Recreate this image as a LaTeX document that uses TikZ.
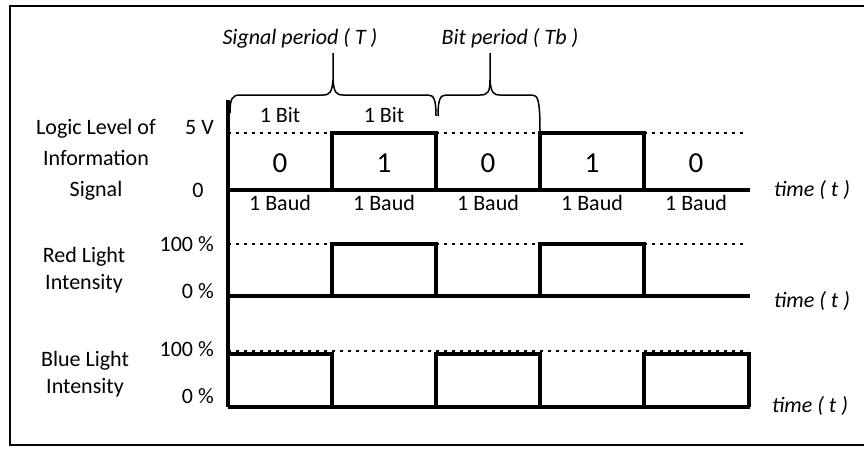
\documentclass[tikz,border=0pt]{standalone}
\usepackage{fontspec}
\setmainfont{Carlito}
\tikzset{
  sig/.style={line width=3.6pt},
  lvl/.style={line width=2.6pt, dash pattern=on 2.6pt off 5.4pt},
  brc/.style={line width=1.5pt},
  lbl/.style={font=\fontsize{22}{27}\selectfont, inner sep=0pt},
  ital/.style={font=\fontsize{22}{27}\selectfont\itshape, inner sep=0pt},
  digit/.style={font=\fontsize{29}{30}\selectfont, inner sep=0pt}
}
\begin{document}
\begin{tikzpicture}[x=1pt, y=-1pt]
    \useasboundingbox (0,0) rectangle (864,448);
    % Marco
    \draw[line width=2.4pt] (10,6) rectangle (880,445);

    % Periodos
    \node[ital] (sigT) at (300,38) {Signal period ( T )};
    \node[ital] (bitTb) at (510,38) {Bit period ( Tb )};
    \draw[brc] (230,113) .. controls (230,99) and (232,95) .. (240,95) -- (323,95)
        .. controls (330,95) and (332,92) .. (333,80) -- (333,53);
    \draw[brc] (333,80) .. controls (334,92) and (336,95) .. (343,95) -- (428,95)
        .. controls (434,95) and (436,100) .. (436,116);
    \draw[brc] (438,116) .. controls (438,100) and (440,95) .. (446,95) -- (480,95)
        .. controls (488,95) and (490,92) .. (490,80) -- (490,53);
    \draw[brc] (490,80) .. controls (491,92) and (493,95) .. (500,95) -- (532,95)
        .. controls (538,95) and (540,100) .. (540,133);
    \node[lbl] (bitA) at (280,115) {1 Bit};
    \node[lbl] (bitB) at (384,115) {1 Bit};

    % Eje vertical
    \draw[sig] (228,100) -- (228,407);

    % Senal de informacion
    \node[lbl, align=center, font=\fontsize{22}{31}\selectfont] (logicLbl) at (96,160) {Logic Level of\\Information\\Signal};
    \node[lbl, anchor=east] (fiveV) at (214,128) {5 V};
    \node[lbl] (zeroV) at (198,190) {0};
    \draw[lvl] (228,133) -- (744,133);
    \draw[sig] (228,190) -- (750,190);
    \draw[sig] (332,190) -- (332,133) -- (436,133) -- (436,190);
    \draw[sig] (540,190) -- (540,133) -- (644,133) -- (644,190);
    \foreach \x/\v [count=\i] in {280/0,384/1,488/0,592/1,696/0} {
        \node[digit] (b\i) at (\x,163) {\v};
        \node[lbl] (baud\i) at (\x,203) {1 Baud};
    }
    \node[ital, anchor=west] (timeA) at (774,190) {time ( t )};

    % Luz roja
    \node[lbl, align=center] (redLbl) at (84,270) {Red Light\\Intensity};
    \node[lbl, anchor=east] (red100) at (214,244) {100 \%};
    \node[lbl, anchor=east] (red0) at (214,291) {0 \%};
    \draw[lvl] (228,244) -- (744,244);
    \draw[sig] (228,296) -- (750,296);
    \draw[sig] (332,296) -- (332,244) -- (436,244) -- (436,296);
    \draw[sig] (540,296) -- (540,244) -- (644,244) -- (644,296);
    \node[ital, anchor=west] (timeB) at (774,301) {time ( t )};

    % Luz azul
    \node[lbl, align=center] (blueLbl) at (85,374) {Blue Light\\Intensity};
    \node[lbl, anchor=east] (blue100) at (214,349) {100 \%};
    \node[lbl, anchor=east] (blue0) at (214,396) {0 \%};
    \draw[lvl] (228,351) -- (748,351);
    \draw[sig] (228,407) -- (750,407);
    \draw[sig] (228,354) -- (332,354) -- (332,407);
    \draw[sig] (436,407) -- (436,354) -- (540,354) -- (540,407);
    \draw[sig] (644,407) -- (644,354) -- (749,354) -- (749,407);
    \node[ital, anchor=west] (timeC) at (772,406) {time ( t )};
\end{tikzpicture}
\end{document}
